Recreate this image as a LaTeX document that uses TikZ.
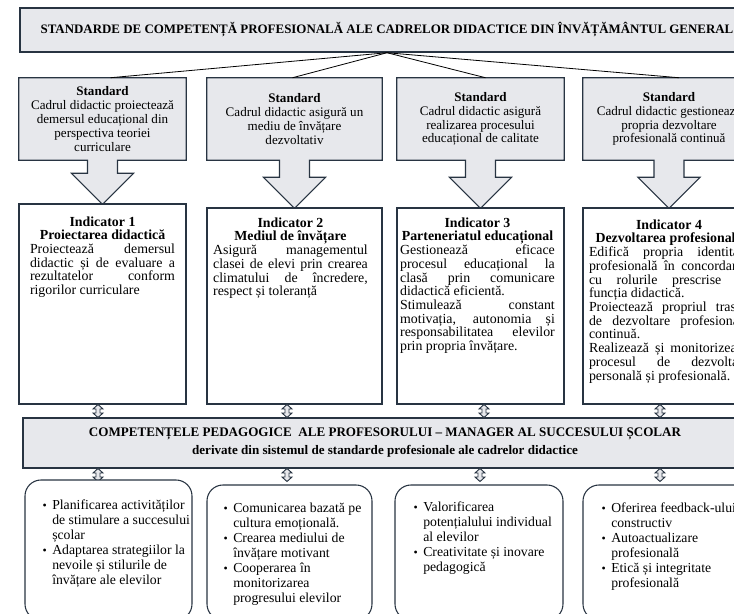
\documentclass[tikz,border=0pt]{standalone}
\usepackage{fontspec}
\setmainfont{Liberation Serif}
\usetikzlibrary{calc,positioning}
\setlength{\parindent}{0pt}
\tolerance=10000
\lineskiplimit=-5pt

\definecolor{boxgray}{RGB}{231,232,236}
\definecolor{boxedge}{RGB}{40,52,66}

% outline of a standard box together with its block arrow
\newcommand{\stdarrow}[2]{%
  \fill[boxgray] ($(#1.south)+(-15,-2)$) -- ($(#1.south)+(-15,#2-31)$) -- ($(#1.south)+(-31,#2-31)$) -- ($(#1.south)+(0,#2)$) -- ($(#1.south)+(31,#2-31)$) -- ($(#1.south)+(15,#2-31)$) -- ($(#1.south)+(15,-2)$) -- cycle;
  \draw[boxedge,line width=0.8pt] (#1.south west) -- (#1.north west) -- (#1.north east) -- (#1.south east) -- ($(#1.south)+(15,0)$) -- ($(#1.south)+(15,#2-31)$) -- ($(#1.south)+(31,#2-31)$) -- ($(#1.south)+(0,#2)$) -- ($(#1.south)+(-31,#2-31)$) -- ($(#1.south)+(-15,#2-31)$) -- ($(#1.south)+(-15,0)$) -- cycle;}
% small vertical double arrow round a coordinate
\newcommand{\dblarr}[1]{%
  \draw[dblarrow,shift={(#1)}] (-2,-2) -- (-5,-2) -- (0,-6.5) -- (5,-2) -- (2,-2) -- (2,2) -- (5,2) -- (0,6.5) -- (-5,2) -- (-2,2) -- cycle;}
\newcommand{\bul}{{\small\textbullet}}

\begin{document}
\begin{tikzpicture}[x=0.75pt,y=-0.75pt,
  titlebox/.style={draw=boxedge,line width=1.1pt,fill=boxgray,minimum width=550.5pt,minimum height=33pt,inner sep=0pt,font=\bfseries\fontsize{9.7}{11}\selectfont},
  stdbox/.style={fill=boxgray,minimum height=61.5pt,inner sep=1pt,align=center,font=\fontsize{9.8}{10.4}\selectfont},
  indbox/.style={draw=boxedge,line width=0.8pt,fill=white},
  indtext/.style={inner sep=0pt,align=justify,font=\fontsize{10.4}{10.3}\selectfont},
  compbox/.style={draw=boxedge,line width=1.1pt,fill=boxgray,minimum width=543pt,minimum height=37.5pt,inner sep=0pt,align=center,font=\bfseries\fontsize{9.8}{13.5}\selectfont},
  dblarrow/.style={draw=boxedge,fill=boxgray,line width=0.7pt,line join=miter},
  listbox/.style={draw=boxedge,line width=0.8pt,rounded corners=12pt,fill=white},
  listtext/.style={inner sep=0pt,font=\fontsize{10.3}{11.3}\selectfont}]
  \useasboundingbox (0,0) rectangle (734,613);
  \clip (0,0) rectangle (734,613);

  % Title
  \node[titlebox] (title) at (387,30) {STANDARDE DE COMPETENȚĂ PROFESIONALĂ ALE CADRELOR DIDACTICE DIN ÎNVĂȚĂMÂNTUL GENERAL};

  % Standards
  \node[stdbox,minimum width=125.25pt] (s1) at (102.5,119) {\textbf{Standard}\\Cadrul didactic proiectează\\demersul educațional din\\perspectiva teoriei\\curriculare};
  \node[stdbox,minimum width=131.25pt] (s2) at (294.5,119) {\textbf{Standard}\\Cadrul didactic asigură un\\mediu de învățare\\dezvoltativ};
  \node[stdbox,minimum width=125.25pt] (s3) at (480.5,119) {\textbf{Standard}\\Cadrul didactic asigură\\realizarea procesului\\educațional de calitate};
  \node[stdbox,minimum width=129pt] (s4) at (669,119) {\textbf{Standard}\\Cadrul didactic gestionează\\propria dezvoltare\\profesională continuă};
  \stdarrow{s1}{44}
  \stdarrow{s2}{48}
  \stdarrow{s3}{48}
  \stdarrow{s4}{48}

  \draw[line width=0.6pt] (title.south) -- ([xshift=6pt]s1.north);
  \draw[line width=0.6pt] (title.south) -- ([xshift=-1.5pt]s2.north);
  \draw[line width=0.6pt] (title.south) -- ([xshift=3.75pt]s3.north);
  \draw[line width=0.6pt] (title.south) -- ([xshift=7.5pt]s4.north);

  % Indicators
  \node[indbox,minimum width=125.25pt,minimum height=150pt] (i1) at (102.5,304) {};
  \node[indbox,minimum width=131.25pt,minimum height=147pt] (i2) at (294.5,306) {};
  \node[indbox,minimum width=125.25pt,minimum height=147pt] (i3) at (480.5,306) {};
  \node[indbox,minimum width=129pt,minimum height=147pt] (i4) at (669,306) {};

  \node[indtext,text width=108.75pt,below=9.5pt of i1.north] (i1t) {{\centering\textbf{Indicator 1}\\\textbf{Proiectarea didactică}\par}
    Proiectează demersul\linebreak didactic și de evaluare a\linebreak rezultatelor conform\linebreak rigorilor curriculare};
  \node[indtext,text width=116pt,below=7.3pt of i2.north,xshift=-3pt] (i2t) {{\centering\textbf{Indicator 2}\\\textbf{Mediul de învățare}\par}
    Asigură managementul\linebreak clasei de elevi prin crearea\linebreak climatului de încredere,\linebreak respect și toleranță};
  \node[indtext,text width=116pt,below=7.3pt of i3.north,xshift=-2.25pt] (i3t) {{\centering\textbf{Indicator 3}\\\textbf{Parteneriatul educațional}\par}
    Gestionează eficace\linebreak procesul educațional la\linebreak clasă prin comunicare\linebreak didactică eficientă.\par
    Stimulează constant\linebreak motivația, autonomia și\linebreak responsabilitatea elevilor\linebreak prin propria învățare.};
  \node[indtext,text width=120pt,below=8.8pt of i4.north] (i4t) {{\centering\textbf{Indicator 4}\\\textbf{Dezvoltarea profesională}\par}
    Edifică propria identitate\linebreak profesională în concordanță\linebreak cu rolurile prescrise de\linebreak funcția didactică.\par
    Proiectează propriul traseu\linebreak de dezvoltare profesională\linebreak continuă.\par
    Realizează și monitorizează\linebreak procesul de dezvoltare\linebreak personală și profesională.};

  % Competences
  \node[compbox] (comp) at (385,443) {COMPETENȚELE PEDAGOGICE\ \ ALE PROFESORULUI – MANAGER AL SUCCESULUI ȘCOLAR\\derivate din sistemul de standarde profesionale ale cadrelor didactice};

  % double arrows above and below the competences
  \coordinate (da1) at (98,411);
  \coordinate (da2) at (287,411);
  \coordinate (da3) at (484,411);
  \coordinate (da4) at (660,411);
  \coordinate (db1) at (98,475);
  \coordinate (db2) at (287,475);
  \coordinate (db3) at (480,475);
  \coordinate (db4) at (660,475);
  \foreach \a in {da1,da2,da3,da4,db1,db2,db3,db4} {\dblarr{\a}}

  % Lists
  \node[listbox,minimum width=125.25pt,minimum height=105pt] (b1) at (108.5,550) {};
  \node[listbox,minimum width=123.75pt,minimum height=101.25pt] (b2) at (289.5,552.5) {};
  \node[listbox,minimum width=126pt,minimum height=101.25pt] (b3) at (479,552.5) {};
  \node[listbox,minimum width=129pt,minimum height=101.25pt] (b4) at (669,552.5) {};

  \node[listtext,below right=14.2pt and 13.5pt of b1.north west] (b1t) {\begin{tabular}{@{}l@{\hspace{4pt}}l@{}}
    \bul & Planificarea activităților\\ & de stimulare a succesului\\ & școlar\\
    \bul & Adaptarea strategiilor la\\ & nevoile și stilurile de\\ & învățare ale elevilor
  \end{tabular}};
  \node[listtext,below right=12.6pt and 12.75pt of b2.north west] (b2t) {\begin{tabular}{@{}l@{\hspace{4pt}}l@{}}
    \bul & Comunicarea bazată pe\\ & cultura emoțională.\\
    \bul & Crearea mediului de\\ & învățare motivant\\
    \bul & Cooperarea în\\ & monitorizarea\\ & progresului elevilor
  \end{tabular}};
  \node[listtext,below right=12.1pt and 14.25pt of b3.north west] (b3t) {\begin{tabular}{@{}l@{\hspace{4pt}}l@{}}
    \bul & Valorificarea\\ & potențialului individual\\ & al elevilor\\
    \bul & Creativitate și inovare\\ & pedagogică
  \end{tabular}};
  \node[listtext,below right=12.6pt and 14.25pt of b4.north west] (b4t) {\begin{tabular}{@{}l@{\hspace{4pt}}l@{}}
    \bul & Oferirea feedback-ului\\ & constructiv\\
    \bul & Autoactualizare\\ & profesională\\
    \bul & Etică și integritate\\ & profesională
  \end{tabular}};
\end{tikzpicture}
\end{document}
